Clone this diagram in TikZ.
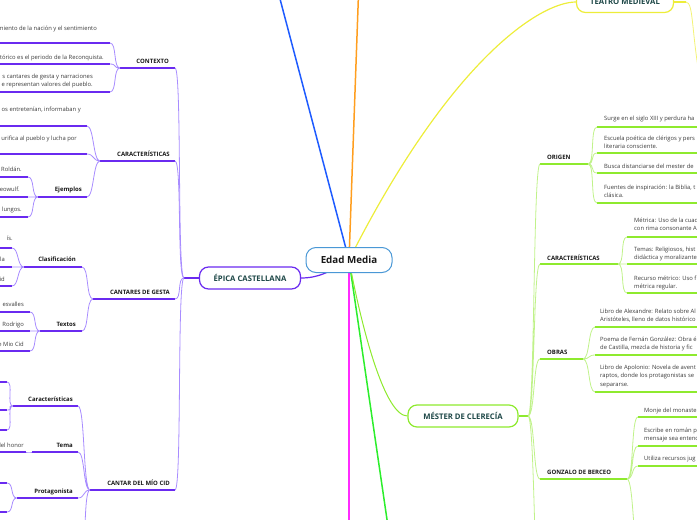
\documentclass[tikz,border=0pt]{standalone}
\usepackage{fontspec}
\setmainfont{Open Sans}
\definecolor{rootline}{HTML}{4A98D6}
\definecolor{epica}{HTML}{6A2AF0}
\definecolor{epicalt}{HTML}{A88CFF}
\definecolor{mester}{HTML}{8EEA2E}
\definecolor{mesterlt}{HTML}{C0F28A}
\definecolor{teatro}{HTML}{EDED3A}
\definecolor{bluebr}{HTML}{1E5BFF}
\definecolor{orangebr}{HTML}{FF9E1F}
\definecolor{pinkbr}{HTML}{FF2BFF}
\definecolor{greenbr}{HTML}{2BEE2B}
\definecolor{topictext}{HTML}{1D4747}
\definecolor{leaftext}{HTML}{3A3A3A}
\tikzset{root/.style={draw=rootline,line width=1pt,fill=white,rounded corners=10pt,minimum width=86pt,minimum height=25pt,inner sep=0pt,text=black!90,font=\bfseries\fontsize{9.8}{12}\selectfont},
topic/.style={fill=white,line width=1.2pt,rounded corners=9pt,minimum height=22pt,inner sep=0pt,text=topictext,font=\bfseries\fontsize{7.7}{9}\selectfont},
blab/.style={inner sep=0pt,text=black!90,font=\bfseries\fontsize{6}{7}\selectfont},
leaf/.style={inner sep=0pt,text=leaftext,font=\fontsize{5.85}{8.6}\selectfont},
pline/.style={draw=epica,line width=1.3pt},
gline/.style={draw=mester,line width=1.3pt},
lcurve/.style={draw=epicalt,line width=.8pt,to path={.. controls +(-7,0) and +(7,0) .. (\tikztotarget)}},
rcurve/.style={draw=mesterlt,line width=.8pt,to path={.. controls +(7,0) and +(-7,0) .. (\tikztotarget)}}}
\begin{document}
\begin{tikzpicture}[x=1pt,y=-1pt]
\useasboundingbox (0,0) rectangle (697,520);
\clip (0,0) rectangle (697,520);
\coordinate (hub) at (349,260);
\node[topic,draw=epica,minimum width=101pt] (epica) at (250,278) {ÉPICA CASTELLANA};
\node[topic,draw=mester,minimum width=110pt] (mester) at (463,416) {MÉSTER DE CLERECÍA};
\node[topic,draw=teatro,minimum width=97pt,minimum height=21pt] (teatro) at (625,2) {TEATRO MEDIEVAL};
% main branches, cut by the page edge
\coordinate (bluetip) at (275,-20);
\coordinate (orangetip) at (359,-20);
\coordinate (pinktip) at (349,540);
\coordinate (greentip) at (390,540);
\draw[bluebr,line width=1.5pt] (hub) -- (bluetip);
\draw[orangebr,line width=1.5pt] (hub) -- (orangetip);
\draw[pinkbr,line width=1.5pt] (hub) -- (pinktip);
\draw[greenbr,line width=1.5pt] (hub) -- (greentip);
\draw[teatro,line width=1.2pt] (hub) .. controls (450,60) and (540,2) .. (teatro.west);
\draw[mester,line width=1pt] (hub) .. controls (362,330) and (385,416) .. (mester.west);
\draw[epica,line width=1.2pt] (epica.east) .. controls (318,278) and (330,272) .. (hub);
\node[root] (edad) at (hub) {Edad Media};
\coordinate (teaR) at (686,2);
\coordinate (teaX) at (702,90);
\draw[teatro,line width=1.2pt] (teatro.east) -- (teaR);
\draw[teatro!70,line width=.8pt] (teaR) .. controls (694,2) and (691,35) .. (teaX);

% epica castellana
\coordinate (hubL) at (184,278);
\draw[pline] (epica.west) -- (hubL);
\node[blab,anchor=base east] (ctx) at (169,63) {CONTEXTO};
\draw[pline] (120,68) coordinate (ctxL) -- (175,68) coordinate (ctxR);
\draw[lcurve] (hubL) to (ctxR);
\node[leaf,anchor=base east] (ctx1) at (97,30) {miento de la nación y el sentimiento};
\draw[pline] (-5,43) -- (110,43) coordinate (ctx1R);
\node[leaf,anchor=base east] (ctx2) at (104,59) {tórico es el periodo de la Reconquista.};
\draw[pline] (-5,64) -- (110,64) coordinate (ctx2R);
\node[leaf,anchor=base east,align=right] (ctx3) at (93,86.6) {s cantares de gesta y narraciones\\e representan valores del pueblo.};
\draw[pline] (-5,92) -- (110,92) coordinate (ctx3R);
\draw[lcurve] (ctxL) to (ctx1R) (ctxL) to (ctx2R) (ctxL) to (ctx3R);

\node[blab,anchor=base east] (car) at (170,156) {CARACTERÍSTICAS};
\draw[pline] (100,161) coordinate (carL) -- (175,161) coordinate (carR);
\draw[lcurve] (hubL) to (carR);
\node[leaf,anchor=base east] (car1) at (81,111) {os entretenían, informaban y};
\draw[pline] (-5,126) -- (87,126) coordinate (car1R);
\node[leaf,anchor=base east] (car2) at (77,140) {urifica al pueblo y lucha por};
\draw[pline] (-5,154) -- (87,154) coordinate (car2R);
\node[blab,anchor=base east] (eje) at (82,191) {Ejemplos};
\draw[pline] (38,197) coordinate (ejeL) -- (87,197) coordinate (ejeR);
\draw[lcurve] (carL) to (car1R) (carL) to (car2R) (carL) to (ejeR);
\node[leaf,anchor=base east] (eje1) at (22,171) {Roldán.};
\draw[pline] (-5,177) -- (28,177) coordinate (eje1R);
\node[leaf,anchor=base east] (eje2) at (20,191) {eowulf.};
\draw[pline] (-5,197) -- (28,197) coordinate (eje2R);
\node[leaf,anchor=base east] (eje3) at (22,211) {lungos.};
\draw[pline] (-5,217) -- (28,217) coordinate (eje3R);
\draw[lcurve] (ejeL) to (eje1R) (ejeL) to (eje2R) (ejeL) to (eje3R);

\node[blab,anchor=base east] (gen) at (170,294) {CANTARES DE GESTA};
\draw[pline] (93,299) coordinate (genL) -- (175,299) coordinate (genR);
\draw[lcurve] (hubL) to (genR);
\node[blab,anchor=base east] (cla) at (76,261) {Clasificación};
\draw[pline] (24,267) coordinate (claL) -- (82,267) coordinate (claR);
\node[blab,anchor=base east] (tex) at (76,326) {Textos};
\draw[pline] (40,331) coordinate (texL) -- (82,331) coordinate (texR);
\draw[lcurve] (genL) to (claR) (genL) to (texR);
\node[leaf,anchor=base east] (cla1) at (13,240) {ís.};
\draw[pline] (-5,248) -- (12,248) coordinate (cla1R);
\node[leaf,anchor=base east] (cla2) at (5,261) {la};
\draw[pline] (-5,267) -- (12,267) coordinate (cla2R);
\node[leaf,anchor=base east] (cla3) at (5,281) {id};
\draw[pline] (-5,286) -- (12,286) coordinate (cla3R);
\draw[lcurve] (claL) to (cla1R) (claL) to (cla2R) (claL) to (cla3R);
\node[leaf,anchor=base east] (tex1) at (24,306) {esvalles};
\draw[pline] (-5,312) -- (30,312) coordinate (tex1R);
\node[leaf,anchor=base east] (tex2) at (24,326) {Rodrigo};
\draw[pline] (-5,331) -- (30,331) coordinate (tex2R);
\node[leaf,anchor=base east] (tex3) at (24,346) {e Mio Cid};
\draw[pline] (-5,351) -- (30,351) coordinate (tex3R);
\draw[lcurve] (texL) to (tex1R) (texL) to (tex2R) (texL) to (tex3R);

\node[blab,anchor=base east] (cid) at (170,485) {CANTAR DEL MÍO CID};
\draw[pline] (90,490) coordinate (cidL) -- (175,490) coordinate (cidR);
\draw[lcurve] (hubL) to (cidR);
\node[blab,anchor=base east] (cca) at (73,401) {Características};
\draw[pline] (13,406) coordinate (ccaL) -- (78,406) coordinate (ccaR);
\node[blab,anchor=base east] (tem) at (73,447) {Tema};
\draw[pline] (32,452) coordinate (temL) -- (78,452) coordinate (temR);
\node[blab,anchor=base east] (pro) at (73,493) {Protagonista};
\draw[pline] (17,498) coordinate (proL) -- (78,498) coordinate (proR);
\coordinate (cidX) at (80,560);
\draw[lcurve] (cidL) to (ccaR) (cidL) to (temR) (cidL) to (proR) (cidL) to (cidX);
\draw[pline] (-5,382) -- (7,382) coordinate (cca1R);
\draw[pline] (-5,410) -- (7,410) coordinate (cca2R);
\draw[pline] (-5,430) -- (7,430) coordinate (cca3R);
\draw[lcurve] (ccaL) to (cca1R) (ccaL) to (cca2R) (ccaL) to (cca3R);
\node[leaf,anchor=base east] (tem1) at (24,447) {del honor};
\draw[pline] (-5,452) -- (26,452) coordinate (tem1R);
\draw[lcurve] (temL) to (tem1R);
\draw[pline] (-5,483) -- (7,483) coordinate (pro1R);
\draw[pline] (-5,512) -- (7,512) coordinate (pro2R);
\draw[lcurve] (proL) to (pro1R) (proL) to (pro2R);

% mester de clerecia
\coordinate (hubR) at (528,416);
\draw[gline] (mester.east) -- (hubR);
\node[blab,anchor=base west] (ori) at (547,159) {ORIGEN};
\draw[gline] (540,164) coordinate (oriL) -- (588,164) coordinate (oriR);
\node[leaf,anchor=base west] (ori1) at (604,120) {Surge en el siglo XIII y perdura ha};
\draw[gline] (597,127) coordinate (ori1L) -- (700,127);
\node[leaf,anchor=base west,align=left] (ori2) at (604,148.6) {Escuela poética de clérigos y pers\\literaria consciente.};
\draw[gline] (597,153) coordinate (ori2L) -- (700,153);
\node[leaf,anchor=base west] (ori3) at (604,168) {Busca distanciarse del mester de};
\draw[gline] (597,173) coordinate (ori3L) -- (700,173);
\node[leaf,anchor=base west,align=left] (ori4) at (604,197.6) {Fuentes de inspiración: la Biblia, t\\clásica.};
\draw[gline] (597,203) coordinate (ori4L) -- (700,203);
\draw[rcurve] (oriR) to (ori1L) (oriR) to (ori2L) (oriR) to (ori3L) (oriR) to (ori4L);

\node[blab,anchor=base west] (rca) at (547,260) {CARACTERÍSTICAS};
\draw[gline] (540,264) coordinate (rcaL) -- (618,264) coordinate (rcaR);
\node[leaf,anchor=base west,align=left] (rca1) at (634,230.6) {Métrica: Uso de la cuad\\con rima consonante A};
\draw[gline] (627,237) coordinate (rca1L) -- (700,237);
\node[leaf,anchor=base west,align=left] (rca2) at (634,259.6) {Temas: Religiosos, hist\\didáctica y moralizante};
\draw[gline] (627,264) coordinate (rca2L) -- (700,264);
\node[leaf,anchor=base west,align=left] (rca3) at (634,288.6) {Recurso métrico: Uso f\\métrica regular.};
\draw[gline] (627,293) coordinate (rca3L) -- (700,293);
\draw[rcurve] (rcaR) to (rca1L) (rcaR) to (rca2L) (rcaR) to (rca3L);

\node[blab,anchor=base west] (obr) at (547,354) {OBRAS};
\draw[gline] (540,359) coordinate (obrL) -- (583,359) coordinate (obrR);
\node[leaf,anchor=base west,align=left] (obr1) at (600,321.6) {Libro de Alexandre: Relato sobre Al\\Aristóteles, lleno de datos histórico};
\draw[gline] (595,327) coordinate (obr1L) -- (700,327);
\node[leaf,anchor=base west,align=left] (obr2) at (600,349.6) {Poema de Fernán González: Obra é\\de Castilla, mezcla de historia y fic};
\draw[gline] (595,355) coordinate (obr2L) -- (700,355);
\node[leaf,anchor=base west,align=left] (obr3) at (600,386.2) {Libro de Apolonio: Novela de avent\\raptos, donde los protagonistas se\\separarse.};
\draw[gline] (595,392) coordinate (obr3L) -- (700,392);
\draw[rcurve] (obrR) to (obr1L) (obrR) to (obr2L) (obrR) to (obr3L);

\node[blab,anchor=base west] (ber) at (547,474) {GONZALO DE BERCEO};
\draw[gline] (540,479) coordinate (berL) -- (627,479) coordinate (berR);
\node[leaf,anchor=base west] (ber1) at (644,412) {Monje del monaste};
\draw[gline] (638,417) coordinate (ber1L) -- (700,417);
\node[leaf,anchor=base west,align=left] (ber2) at (644,440.6) {Escribe en román p\\mensaje sea entend};
\draw[gline] (638,446) coordinate (ber2L) -- (700,446);
\node[leaf,anchor=base west] (ber3) at (644,460) {Utiliza recursos jug};
\draw[gline] (638,466) coordinate (ber3L) -- (700,466);
\coordinate (berX) at (640,560);
\draw[rcurve] (berR) to (ber1L) (berR) to (ber2L) (berR) to (ber3L) (berR) to (berX);

\coordinate (mesX) at (541,620);
\draw[rcurve] (hubR) to (oriL) (hubR) to (rcaL) (hubR) to (obrL) (hubR) to (berL) (hubR) to (mesX);
\end{tikzpicture}
\end{document}
